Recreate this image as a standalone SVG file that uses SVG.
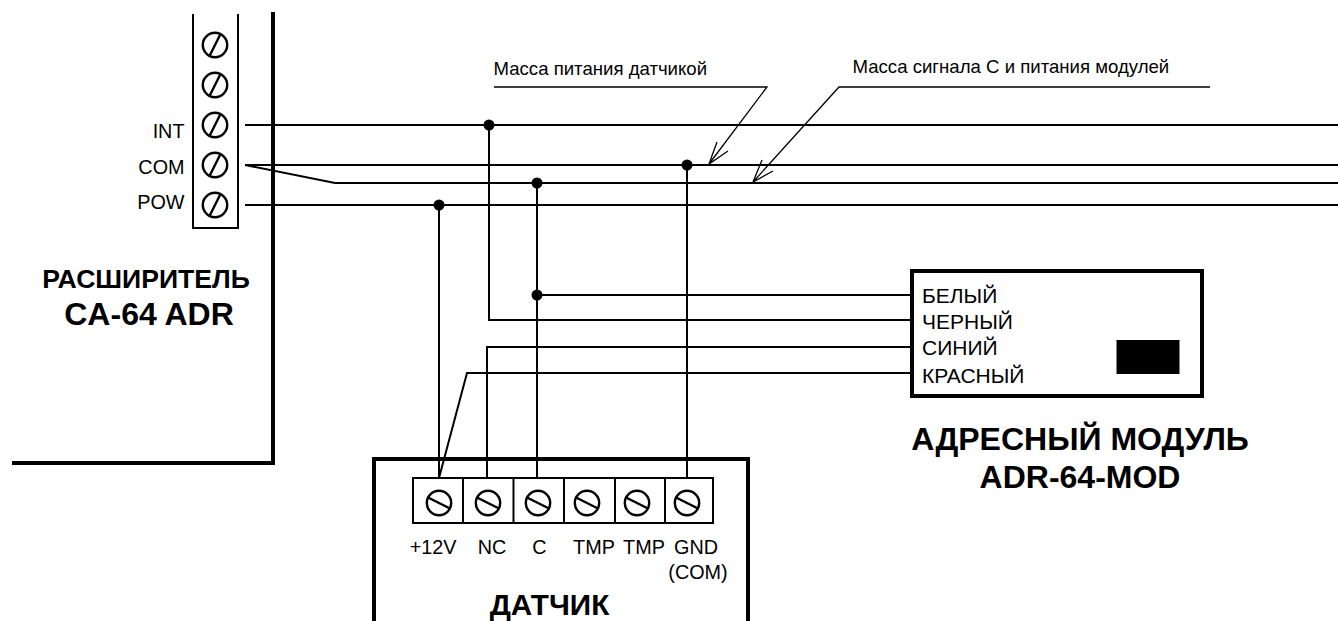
<svg xmlns="http://www.w3.org/2000/svg" width="1338" height="621" viewBox="0 0 1338 621">
<style>
text{font-family:"Liberation Sans",Arial,sans-serif;fill:#000}
.t{font-size:19.8px}
.u{font-size:21px}
.s{font-size:18.6px}
.b{font-size:26.6px;font-weight:bold}
.b2{font-size:32px;font-weight:bold}
.w{fill:none;stroke:#000;stroke-width:2;stroke-linejoin:miter}
.l{fill:none;stroke:#000;stroke-width:1.3}
.h{fill:none;stroke:#000;stroke-width:4}
.m{fill:none;stroke:#000;stroke-width:2}
.sc{fill:none;stroke:#000;stroke-width:2.4}
</style>
<defs>
<g id="sv"><circle r="12.2" class="sc"/><line x1="-5.5" y1="11" x2="5.5" y2="-11" class="sc"/></g>
<g id="sh"><circle r="12.2" class="sc"/><line x1="-11" y1="-5.5" x2="11" y2="5.5" class="sc"/></g>
<circle id="d" r="5.5" fill="#000"/>
</defs>
<g id="expander">
<path class="h" d="M273 12V463H12"/>
<path class="m" d="M193 14V228H238V14"/>
<use href="#sv" x="215" y="45"/><use href="#sv" x="215" y="85"/><use href="#sv" x="215" y="125"/><use href="#sv" x="215" y="165"/><use href="#sv" x="215" y="205"/>
<text class="t" x="184.5" y="138" text-anchor="end">INT</text>
<text class="t" x="184.5" y="174" text-anchor="end">COM</text>
<text class="t" x="184.5" y="209" text-anchor="end">POW</text>
<text class="b" x="146" y="288" text-anchor="middle">РАСШИРИТЕЛЬ</text>
<text class="b2" x="149" y="325" text-anchor="middle">CA-64 ADR</text>
</g>
<g id="connectors">
<path class="w" d="M245 125H1338M245 165H1338M245 165L335 183H1338M245 205H1338"/>
<path class="w" d="M489 125V320H912M537 183V478M537 295H912M439 205V478M687 165V478M487 478V347H912M439 478L467 373H912"/>
<use href="#d" x="489" y="125"/><use href="#d" x="687" y="165"/><use href="#d" x="537" y="183"/><use href="#d" x="439" y="205"/><use href="#d" x="537" y="295"/>
</g>
<g id="callouts">
<path class="l" d="M494 87H767L709 164M717 142L709 164L728 151M1210 87H839L753 182M762 160L753 182L773 171"/>
<text class="s" x="493.5" y="75">Масса питания датчикой</text>
<text class="s" x="852.5" y="73">Масса сигнала C и питания модулей</text>
</g>
<g id="module">
<rect x="912" y="271" width="290" height="125" fill="#fff" stroke="#000" stroke-width="4"/>
<rect x="1116.5" y="340" width="63" height="34" fill="#000"/>
<text class="u" x="922" y="303">БЕЛЫЙ</text>
<text class="u" x="922" y="329">ЧЕРНЫЙ</text>
<text class="u" x="922" y="355">СИНИЙ</text>
<text class="u" x="922" y="383">КРАСНЫЙ</text>
<text class="b2" x="1080" y="450" text-anchor="middle">АДРЕСНЫЙ МОДУЛЬ</text>
<text class="b2" x="1080" y="488" text-anchor="middle">ADR-64-MOD</text>
</g>
<g id="sensor">
<path class="h" d="M374 621V459H748V621"/>
<path class="m" d="M413 478H713V523H413ZM463 478V523M513.5 478V523M564 478V523M615 478V523M665 478V523"/>
<use href="#sh" x="439" y="503"/><use href="#sh" x="488" y="503"/><use href="#sh" x="538" y="503"/><use href="#sh" x="587" y="503"/><use href="#sh" x="637" y="503"/><use href="#sh" x="687" y="503"/>
<text class="t" x="433" y="554" text-anchor="middle">+12V</text>
<text class="t" x="492" y="554" text-anchor="middle">NC</text>
<text class="t" x="539.5" y="554" text-anchor="middle">C</text>
<text class="t" x="594" y="554" text-anchor="middle">TMP</text>
<text class="t" x="644" y="554" text-anchor="middle">TMP</text>
<text class="t" x="696" y="554" text-anchor="middle">GND</text>
<text class="t" x="698" y="579" text-anchor="middle">(COM)</text>
<text class="b" x="549.5" y="615" text-anchor="middle" style="font-size:29.7px">ДАТЧИК</text>
</g>
</svg>
